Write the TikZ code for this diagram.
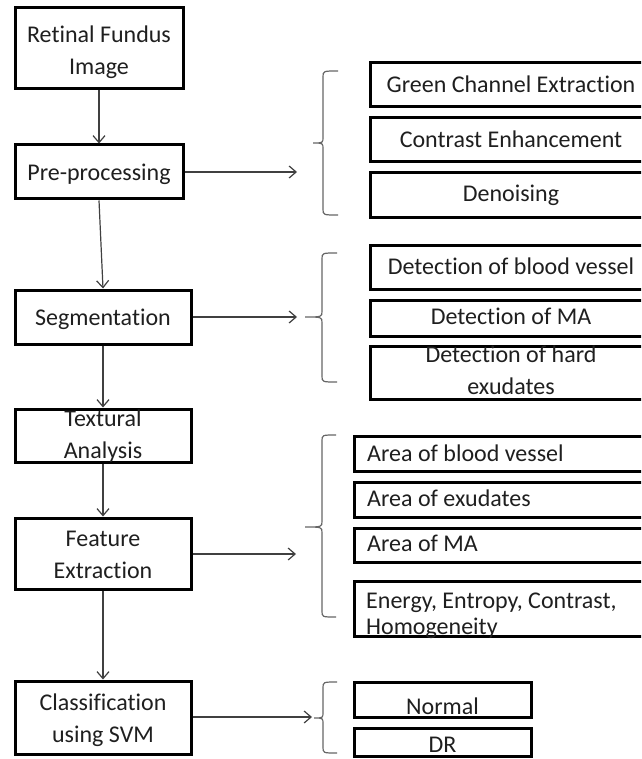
\documentclass[tikz,border=0pt]{standalone}
\usepackage{fontspec}
\setmainfont{Carlito}[Ligatures=NoCommon]
\usetikzlibrary{arrows.meta}
\newcommand\mybrace[6]{\draw[brc] (#5,#1) .. controls (#4,#1) .. (#4,#1+6) -- (#4,#2-6) .. controls (#4,#2) .. (#6,#2) .. controls (#4,#2) .. (#4,#2+6) -- (#4,#3-6) .. controls (#4,#3) .. (#5,#3);}
\begin{document}
\begin{tikzpicture}[x=1pt,y=-1pt,
 box/.style={draw=black, line width=3pt, inner sep=0pt},
 txt/.style={font=\fontsize{24}{32}\selectfont, text=black!88, inner sep=0pt, align=center},
 ltxt/.style={txt, anchor=west, align=left},
 arr/.style={draw=black!75, line width=1.2pt, -{Straight Barb[length=7pt,width=12pt]}},
 brc/.style={draw=black!60, line width=1.2pt}]
\useasboundingbox (0,0) rectangle (641,759);
\clip (0,0) rectangle (641,759);
% left column boxes
\node[box, minimum width=168pt, minimum height=81pt] (rfi) at (99,48.5) {};
\node[box, minimum width=168pt, minimum height=54pt] (pre) at (99,172) {};
\node[box, minimum width=176pt, minimum height=54pt] (seg) at (103,317) {};
\node[box, minimum width=176pt, minimum height=53pt] (ta) at (103,435.5) {};
\node[box, minimum width=176pt, minimum height=71pt] (fe) at (103,553.5) {};
\node[box, minimum width=176pt, minimum height=73pt] (cls) at (103,717.5) {};
% right boxes group 1
\node[box, minimum width=282pt, minimum height=44pt] (gce) at (511,85) {};
\node[box, minimum width=282pt, minimum height=44pt] (ce) at (511,140) {};
\node[box, minimum width=282pt, minimum height=44pt] (den) at (511,195) {};
% group 2
\node[box, minimum width=282pt, minimum height=44pt] (dbv) at (511,267) {};
\node[box, minimum width=282pt, minimum height=36pt] (dma) at (511,318) {};
\node[box, minimum width=282pt, minimum height=53pt] (dhe) at (511,372.5) {};
% group 3
\node[box, minimum width=300pt, minimum height=35pt] (abv) at (504,453.5) {};
\node[box, minimum width=300pt, minimum height=35pt] (aex) at (504,499.5) {};
\node[box, minimum width=300pt, minimum height=34pt] (ama) at (504,545) {};
\node[box, minimum width=300pt, minimum height=55pt] (eng) at (504,608.5) {};
% group 4
\node[box, minimum width=177pt, minimum height=35pt] (nor) at (442.5,699.5) {};
\node[box, minimum width=177pt, minimum height=28pt] (dr) at (442.5,742) {};
% texts
\node[txt] (t-rfi) at (99,52) {Retinal Fundus\\Image};
\node[txt] (t-pre) at (99,174) {Pre-processing};
\node[txt] (t-seg) at (103,319) {Segmentation};
\node[txt] (t-ta) at (103,436.5) {Textural\\Analysis};
\node[txt] (t-fe) at (103,554.5) {Feature\\Extraction};
\node[txt] (t-cls) at (103,720) {Classification\\using SVM};
\node[txt] (t-gce) at (511,84.5) {Green Channel Extraction};
\node[txt] (t-ce) at (511,139.5) {Contrast Enhancement};
\node[txt] (t-den) at (511,195) {Denoising};
\node[txt] (t-dbv) at (511,266.5) {Detection of blood vessel};
\node[txt] (t-dma) at (511,316.5) {Detection of MA};
\node[txt] (t-dhe) at (511,370.5) {Detection of hard\\exudates};
\node[ltxt] (t-abv) at (367,453.5) {Area of blood vessel};
\node[ltxt] (t-aex) at (367,498.5) {Area of exudates};
\node[ltxt] (t-ama) at (367,543.5) {Area of MA};
\node[ltxt, font=\fontsize{24}{26}\selectfont] (t-eng) at (366,616) {Energy, Entropy, Contrast,\\Homogeneity};
\node[txt] (t-nor) at (442.5,706.5) {Normal};
\node[txt] (t-dr) at (442.5,744.5) {DR};
% vertical connectors
\draw[arr] (rfi.south) -- (pre.north);
\draw[arr] (pre.south) -- (seg.north);
\draw[arr] (seg.south) -- (ta.north);
\draw[arr] (ta.south) -- (fe.north);
\draw[arr] (fe.south) -- (cls.north);
% horizontal connectors
\coordinate (b1) at (297,172);
\coordinate (b2) at (297,317);
\coordinate (b3) at (296,554);
\coordinate (b4) at (312,717);
\draw[arr] (pre.east) -- (b1);
\draw[arr] (seg.east) -- (b2);
\draw[arr] (fe.east |- b3) -- (b3);
\draw[arr] (cls.east |- b4) -- (b4);
% braces
\mybrace{71}{143}{215}{323}{338}{313}
\mybrace{253}{317}{382}{322}{337}{305}
\mybrace{435}{527}{617}{322}{336}{305}
\mybrace{682}{718}{753}{323}{337}{314}
\end{tikzpicture}
\end{document}
